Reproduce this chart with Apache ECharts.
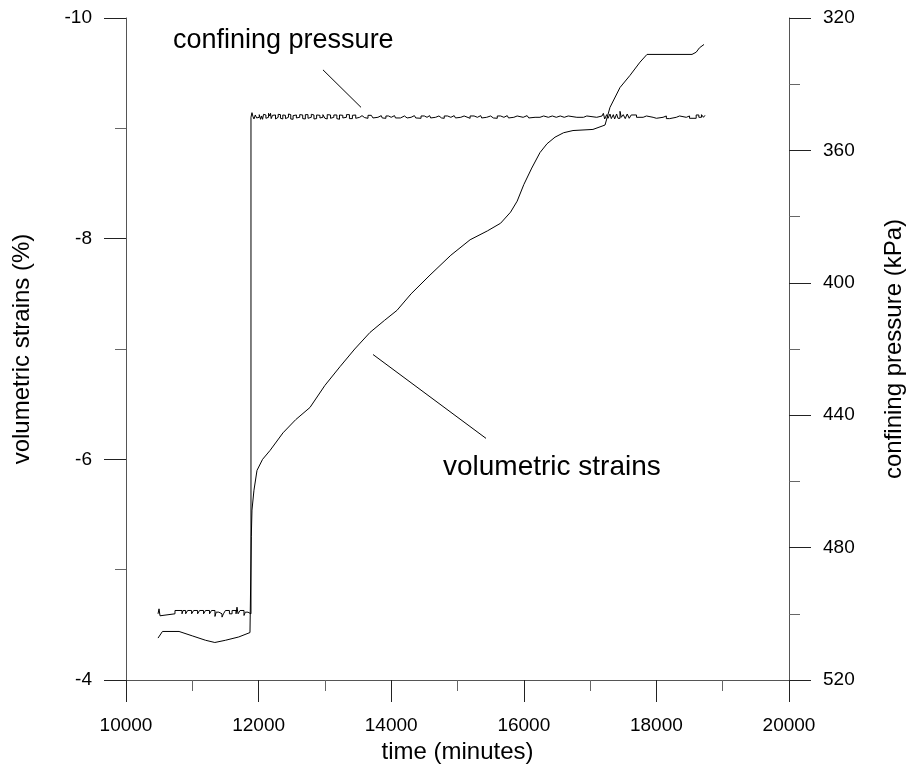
<!DOCTYPE html>
<html>
<head>
<meta charset="utf-8">
<script src="https://cdn.jsdelivr.net/npm/echarts@6/dist/echarts.min.js"></script>
<style>html,body{margin:0;padding:0;background:#fff}#c{width:915px;height:769px}</style>
</head>
<body>
<div id="c"></div>
<script>
// time (minutes) and volumetric strain (%)
const strainTime = [10483,10550,10800,11000,11200,11340,11500,11700,11870,11885,11890,11900,11930,11976,12060,12172,12368,12560,12775,13000,13228,13450,13680,13900,14087,14300,14585,14900,15190,15450,15650,15800,15900,16000,16120,16244,16350,16471,16600,16742,17043,17180,17225,17300,17451,17602,17753,17858,18537,18600,18650,18718];
const strainVal  = [-4.38,-4.44,-4.44,-4.40,-4.36,-4.34,-4.36,-4.39,-4.43,-4.43,-5.30,-5.54,-5.72,-5.90,-6.00,-6.08,-6.24,-6.36,-6.47,-6.67,-6.84,-7.00,-7.15,-7.26,-7.35,-7.50,-7.67,-7.85,-7.99,-8.07,-8.14,-8.24,-8.34,-8.49,-8.64,-8.78,-8.86,-8.92,-8.96,-8.98,-8.99,-9.02,-9.03,-9.19,-9.37,-9.48,-9.60,-9.67,-9.67,-9.69,-9.73,-9.76];

// time (minutes) and confining pressure (kPa)
const pressTime = [10483,10498,10513,10530,10739,10845,10860,10900,10930,10990,11020,11080,11110,11170,11200,11260,11290,11342,11360,11400,11448,11470,11500,11560,11600,11660,11674,11690,11720,11780,11800,11840,
11885,11900,11915,11930,11950,11970,11990,12010,12030,12045,12060,12075,12090,12110,12130,12150,12170,12180,12190,12210,12230,12255,12280,12295,12310,12330,12350,12365,12380,12405,12430,12450,12470,12485,12500,12520,12540,12570,12600,12620,12640,12665,12690,12705,12720,12745,12770,12795,12820,12835,12850,12875,12900,12925,12950,12970,12990,13000,13010,13035,13060,13085,13110,13135,13160,13180,13200,13220,13240,13270,13300,13325,13350,13370,13390,13415,13440,13465,13490,13525,13560,13580,13600,13650,13700,13725,13750,13800,13850,13865,13880,13920,13960,14000,14050,14065,14080,14140,14200,14220,14240,14300,14350,14370,14390,14450,14500,14540,14580,14595,14610,14670,14720,14740,14760,14800,14850,14900,14950,14970,14990,15050,15100,15115,15130,15190,15250,15300,15350,15365,15380,15440,15500,15520,15540,15600,15650,15700,15750,15770,15790,15850,15900,15915,15930,15990,16050,16075,16100,16170,16244,16300,16370,16430,16490,16550,16610,16670,16800,16900,16950,17100,17180,17200,17220,17250,17270,17300,17320,17350,17370,17400,17420,17451,17470,17500,17530,17560,17590,17620,17700,17800,17850,17950,18000,18100,18150,18200,18300,18350,18450,18500,18600,18640,18680,18710,18733];
const pressVal = [500,498.5,500.6,500,499,500,499,500,499,500,499,500,499,500,499,500,499,500.8,499.5,500,501,500,499,500,499,500,498,500,499,500.5,499.5,500,
350,348.6,349.8,350.5,349.3,350.2,350,349.2,350.6,349.6,350.6,349.1,349.3,350.3,350,348.8,349.6,348.8,350.4,349.4,349.3,350.5,350,349.1,349.2,350.3,350.5,349.3,349.4,350.4,350,349.0,349.2,350.5,350.6,349.5,349.3,350.2,350,349.2,349.3,350.4,350.5,349.2,349.2,350.3,350,349.1,349.3,350.5,350.4,349.3,349.4,350.2,350,349.2,348.9,350.3,350.5,349.2,349.3,350.3,350,349.3,349.3,350.4,350.6,349.3,349.4,350.2,350,349.2,349.2,350.4,350.4,349.4,349.3,350.3,350,349.5,349.5,350.1,350.3,349.4,349.6,350.2,350,349.5,349.5,350.2,350.3,349.6,350,349.5,349.5,350.2,350.2,349.6,349.6,350.2,350,349.5,349.5,350.2,350.3,349.6,350,349.5,349.5,350.2,350,349.6,349.6,350.2,350.3,349.6,350,349.5,349.5,350.2,350,349.6,349.6,350.2,350.3,349.6,350,349.5,349.5,350.2,350,349.6,349.6,350.2,350.3,349.6,350,349.5,349.5,350.2,350,349.6,349.6,350.2,350,349.5,349.5,350.2,350,350,349.6,350,349.6,350,349.6,350,349.6,350,350,349.6,350,349.6,350,348.8,350.5,349.2,350.3,349,350.4,349.2,350.5,349,350.3,348.2,350,349.2,350.4,349,350.3,349.3,350,349.6,350,350.3,350,349.6,350.4,350,349.6,350,349.6,350.3,349.3,350,349.2,350,349.4];

const xTicks = {min:10000, max:20000, interval:2000};
const yLeftTicks = {min:-10, max:-4, interval:2};
const yRightTicks = {min:320, max:520, interval:40};

const FONT = '"Liberation Sans", Arial, sans-serif';
const chart = echarts.init(document.getElementById('c'), null, {renderer:'canvas'});

function axisCommon(){
  return {
    splitLine:{show:false},
    axisLine:{show:true, lineStyle:{color:'#555', width:1}},
    axisTick:{show:true, inside:false, length:22, lineStyle:{color:'#222', width:1}},
    minorTick:{show:true, splitNumber:2, length:11, lineStyle:{color:'#666', width:1}},
    axisLabel:{color:'#000', fontFamily:FONT, fontSize:19, formatter:v=>String(v)},
    nameTextStyle:{color:'#000', fontFamily:FONT, fontSize:24},
    nameLocation:'middle'
  };
}

const xAx = Object.assign(axisCommon(), {type:'value', min:xTicks.min, max:xTicks.max, interval:xTicks.interval, name:'time (minutes)', nameGap:56});
xAx.axisLabel.margin = 36;
const yL = Object.assign(axisCommon(), {type:'value', position:'left', inverse:true, min:yLeftTicks.min, max:yLeftTicks.max, interval:yLeftTicks.interval, name:'volumetric strains (%)', nameGap:92});
yL.axisLabel.margin = 34;
const yR = Object.assign(axisCommon(), {type:'value', position:'right', inverse:true, min:yRightTicks.min, max:yRightTicks.max, interval:yRightTicks.interval, name:'confining pressure (kPa)', nameGap:93});
yR.axisLabel.margin = 34;

chart.setOption({
  animation:false,
  backgroundColor:'#fff',
  grid:{left:126, right:126, top:18, bottom:89, containLabel:false},
  xAxis:xAx,
  yAxis:[yL, yR],
  series:[
    {type:'line', yAxisIndex:0, data:strainTime.map((t,i)=>[t,strainVal[i]]), showSymbol:false, symbol:'none', lineStyle:{color:'#000', width:1}},
    {type:'line', yAxisIndex:1, step:'end', data:pressTime.map((t,i)=>[t,pressVal[i]]), showSymbol:false, symbol:'none', lineStyle:{color:'#000', width:1}}
  ]
});

// annotations in data coordinates (time, strain)
const annText = [
  {text:'confining pressure', at:[10709,-9.80], size:27},
  {text:'volumetric strains', at:[14781,-5.93], size:28}
];
const annLines = [
  [[12971,-9.53],[13545,-9.19]],
  [[13726,-6.95],[15430,-6.19]]
];
const px = p => chart.convertToPixel({xAxisIndex:0, yAxisIndex:0}, p);
const g = [];
annText.forEach(a=>{
  const p = px(a.at);
  g.push({type:'text', x:p[0], y:p[1], style:{text:a.text, fill:'#000', font:a.size+'px '+FONT, textVerticalAlign:'middle', textAlign:'left'}});
});
annLines.forEach(l=>{
  const a = px(l[0]), b = px(l[1]);
  g.push({type:'line', shape:{x1:a[0], y1:a[1], x2:b[0], y2:b[1]}, style:{stroke:'#000', lineWidth:1}});
});
chart.setOption({graphic:g});
</script>
</body>
</html>
